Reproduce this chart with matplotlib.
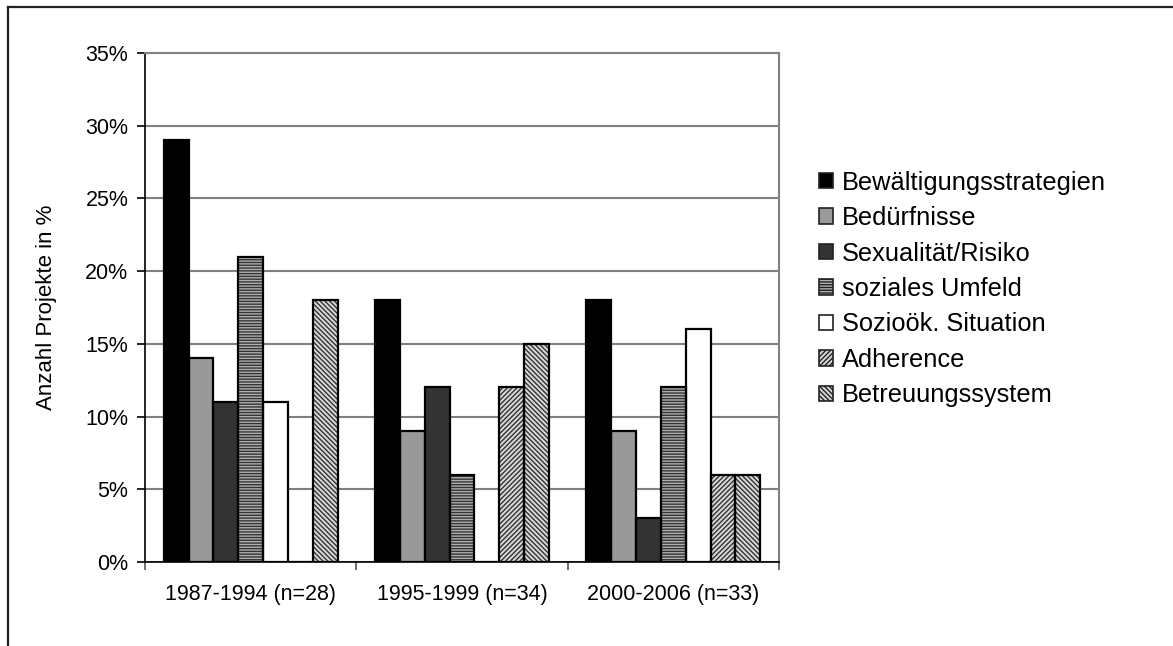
import numpy as np
import matplotlib
matplotlib.use("Agg")
import matplotlib.pyplot as plt
from matplotlib.lines import Line2D
from matplotlib.patches import Patch
from matplotlib.ticker import FuncFormatter

plt.rcParams['font.family'] = ['Liberation Sans', 'DejaVu Sans']
plt.rcParams['hatch.linewidth'] = 1.0

zeitraeume = ["1987-1994 (n=28)", "1995-1999 (n=34)", "2000-2006 (n=33)"]
kategorien = ["Bewältigungsstrategien", "Bedürfnisse", "Sexualität/Risiko",
              "soziales Umfeld", "Sozioök. Situation", "Adherence", "Betreuungssystem"]

# Anteile in % je Zeitraum
bewaeltigung = [29, 18, 18]
beduerfnisse = [14, 9, 9]
sexualitaet = [11, 12, 3]
umfeld = [21, 6, 12]
soziooek = [11, 0, 16]
adherence = [0, 12, 6]
betreuung = [18, 15, 6]

werte = [bewaeltigung, beduerfnisse, sexualitaet, umfeld, soziooek, adherence, betreuung]

farben = ['black', '#999999', '#333333', '#b0b0b0', 'white', '#d8d8d8', '#d8d8d8']
muster = [None, None, None, '------', None, '///////', '\\\\\\\\\\\\\\']
hatchfarben = ['black', 'black', 'black', '#333333', 'black', '#333333', '#333333']

fig = plt.figure(figsize=(11.73, 6.46), dpi=100)
ax = fig.add_axes([145/1173, 1 - 562/646, (779-145)/1173, (562-53)/646])

x = np.arange(len(zeitraeume))
breite = 1 / 8.5
for i, (w, f, m, hc) in enumerate(zip(werte, farben, muster, hatchfarben)):
    ax.bar(x + (i - 3) * breite, np.array(w) / 100, breite, color=f,
           edgecolor=hc, hatch=m, linewidth=0, zorder=3)
    ax.bar(x + (i - 3) * breite, np.array(w) / 100, breite, color='none',
           edgecolor='black', linewidth=1.6, zorder=4)

ax.set_xlim(-0.5, 2.5)
ax.set_ylim(0, 0.35)
ax.set_yticks(np.arange(0, 0.351, 0.05))
ax.yaxis.set_major_formatter(FuncFormatter(lambda v, p: f"{v*100:.0f}%"))
ax.yaxis.grid(True, color='#808080', linewidth=1.5, zorder=0)
ax.set_xticks(x)
ax.set_xticklabels(zeitraeume)
ax.set_xticks(np.arange(-0.5, 2.6, 1), minor=True)
ax.tick_params(axis='x', which='major', length=0, pad=16, labelsize=15.5)
ax.tick_params(axis='x', which='minor', length=6, width=1.2, color='#555555')
ax.tick_params(axis='y', length=6, width=1.2, labelsize=15.5, pad=6)
ax.set_ylabel("Anzahl Projekte in %", fontsize=16, labelpad=20)

for s in ['top', 'right']:
    ax.spines[s].set_color('#808080')
    ax.spines[s].set_linewidth(1.5)
for s in ['left', 'bottom']:
    ax.spines[s].set_color('black')
    ax.spines[s].set_linewidth(1.2)

# Legende mit schwarzem Rand um die Kästchen
handles = [Patch(facecolor=f, edgecolor='#222222', hatch=m, linewidth=1.2)
           for f, m in zip(farben, muster)]
fig.legend(handles, kategorien, loc='center left', bbox_to_anchor=(819/1173, 1 - 289/646),
           frameon=False, fontsize=18.3, handlelength=0.55, handleheight=0.55,
           handletextpad=0.35, labelspacing=0.45, borderpad=0, borderaxespad=0)

# Rahmen des Diagrammbereichs (links und oben)
fig.add_artist(Line2D([8/1173, 8/1173], [0, 1 - 7/646], transform=fig.transFigure,
                      color='#222222', linewidth=1.6))
fig.add_artist(Line2D([8/1173, 1], [1 - 7/646, 1 - 7/646], transform=fig.transFigure,
                      color='#222222', linewidth=1.6))

fig.savefig("out.png", dpi=100)
